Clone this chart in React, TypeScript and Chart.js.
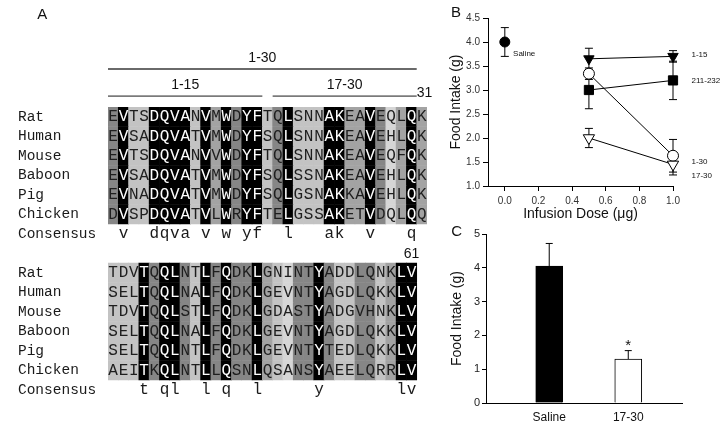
import React, { useEffect, useRef } from "react";
import { Chart, registerables } from "chart.js";

Chart.register(...registerables);

const SANS = '"Liberation Sans", Arial, Helvetica, sans-serif';
const MONO = '"Liberation Mono", "Courier New", monospace';

// ---------------- Panel A data ----------------
const species = ["Rat", "Human", "Mouse", "Baboon", "Pig", "Chicken"];
const consensusLabel = "Consensus";
const block1Sequences = [
  "EVTSDQVANVMWDYFTQLSNNAKEAVEQLQK",
  "EVSADQVATVMWDYFSQLSNNAKEAVEHLQK",
  "EVTSDQVANVVWDYFTQLSNNAKEAVEQFQK",
  "EVSADQVATVMWDYFSQLSSNAKEAVEHLQK",
  "EVNADQVATVMWDYFSQLGSNAKKAVEHLQK",
  "DVSPDQVATVLWRYFTELGSSAKETVDQLQQ",
];
const block2Sequences = [
  "TDVTQQLNTLFQDKLGNINTYADDLQNKLV",
  "SELTQQLNALFQDKLGEVNTYAGDLQKKLV",
  "TDVTQQLSTLFQDKLGDASTYADGVHNKLV",
  "SELTQQLNALFQDKLGEVNTYAGDLQKKLV",
  "SELTQQLNTLFQDKLGEVNTYTEDLQKKLV",
  "AEITKQLNTLLQSNLQSANSYAEELQRRLV",
];
const block1Consensus = " v  dqva v w yf  l   ak  v   q ";
const block2Consensus = "   t ql  l q  l     y       lv";
// conservation shading per column: K black, D dark, M mid, L light, W very light
const block1Shading = "DKLLKKKKLKMKDKKLDKLLLKKMMKDWMKM";
const block2Shading = "LLLKDKKDLKDKDDKMLWDDKDLLDDLMKK";
const segmentLabels = ["1-30", "1-15", "17-30"];
const segmentStart = [1, 1, 17];
const segmentEnd = [30, 15, 30];
const block1EndNumber = "31";
const block2EndNumber = "61";

// ---------------- Panel B data ----------------
const doseTicks = [0, 0.2, 0.4, 0.6, 0.8, 1.0];
const intakeTicksB = [1.0, 1.5, 2.0, 2.5, 3.0, 3.5, 4.0, 4.5];
const doses = [0.5, 1.0];
const salineDose = [0];
const salineIntake = [4.0];
const salineSem = [0.3];
const intake1to15 = [3.65, 3.7];
const sem1to15 = [0.22, 0.12];
const intake211to232 = [3.0, 3.2];
const sem211to232 = [0.39, 0.4];
const intake17to30 = [2.0, 1.45];
const sem17to30 = [0.2, 0.22];
const intake1to30 = [3.34, 1.63];
const sem1to30 = [0.12, 0.34];
const seriesNamesB = ["Saline", "1-15", "211-232", "17-30", "1-30"];

// ---------------- Panel C data ----------------
const groupsC = ["Saline", "17-30"];
const intakeC = [4.05, 1.3];
const semC = [0.67, 0.25];
const significanceC = ["", "*"];
const intakeTicksC = [0, 1, 2, 3, 4, 5];

// ---------------- styles ----------------
const shadeColors: Record<string, string> = {
  K: "#000000",
  D: "#868686",
  M: "#a3a3a3",
  L: "#c3c3c3",
  W: "#d6d6d6",
};
const ROW_OFFSET_BLOCK2 = 8;

function configA(): any {
  const datasets = species.map((name, i) => {
    const data: any[] = [];
    const colors: string[] = [];
    [block1Sequences, block2Sequences].forEach((seqs, b) => {
      const shade = b === 0 ? block1Shading : block2Shading;
      const row = b * ROW_OFFSET_BLOCK2 + i + 1;
      for (let j = 0; j < seqs[i].length; j++) {
        data.push({ x: j + 1, y: [row - 0.5, row + 0.5] });
        colors.push(shadeColors[shade[j]]);
      }
    });
    return {
      label: name,
      data,
      backgroundColor: colors,
      borderWidth: 0,
      barPercentage: 1,
      categoryPercentage: 1,
      grouped: false,
    };
  });

  const plugin = {
    id: "alignmentText",
    afterDatasetsDraw(chart: any) {
      const { ctx } = chart;
      const xs = chart.scales.x;
      const ys = chart.scales.y;
      const px = (v: number) => xs.getPixelForValue(v);
      const py = (v: number) => ys.getPixelForValue(v);
      ctx.save();
      ctx.textBaseline = "middle";

      // panel letter
      ctx.fillStyle = "#111";
      ctx.font = `15px ${SANS}`;
      ctx.textAlign = "center";
      ctx.fillText("A", px(-5.9), py(-4.2));

      // segment lines + labels
      const lineRow = [-1.45, -0.06, -0.06];
      const textRow = [-2.0, -0.62, -0.62];
      segmentLabels.forEach((lab, k) => {
        const x0 = px(segmentStart[k] - 0.5);
        const x1 = px(segmentEnd[k] + 0.5);
        ctx.beginPath();
        ctx.strokeStyle = k === 0 ? "#6a6a6a" : "#1a1a1a";
        ctx.lineWidth = k === 0 ? 2 : 1;
        ctx.moveTo(x0, py(lineRow[k]));
        ctx.lineTo(x1, py(lineRow[k]));
        ctx.stroke();
        ctx.fillStyle = "#111";
        ctx.font = `14px ${SANS}`;
        ctx.textAlign = "center";
        ctx.fillText(lab, (x0 + x1) / 2, py(textRow[k]));
      });
      ctx.font = `14px ${SANS}`;
      ctx.fillText(block1EndNumber, px(31.25), py(-0.22));
      ctx.fillText(block2EndNumber, px(30), py(8.06));

      // row labels and letters
      [block1Sequences, block2Sequences].forEach((seqs, b) => {
        const shade = b === 0 ? block1Shading : block2Shading;
        const cons = b === 0 ? block1Consensus : block2Consensus;
        const base = b * ROW_OFFSET_BLOCK2;
        ctx.textAlign = "left";
        ctx.fillStyle = "#1a1a1a";
        ctx.font = `14.5px ${MONO}`;
        species.forEach((name, i) => {
          ctx.fillText(name, px(-8.25), py(base + i + 1));
        });
        ctx.fillText(consensusLabel, px(-8.25), py(base + species.length + 1));

        ctx.textAlign = "center";
        ctx.font = `16px ${MONO}`;
        species.forEach((_, i) => {
          const seq = seqs[i];
          for (let j = 0; j < seq.length; j++) {
            ctx.fillStyle = shade[j] === "K" ? "#ffffff" : "#1e1e1e";
            ctx.fillText(seq[j], px(j + 1), py(base + i + 1) + 0.5);
          }
        });
        ctx.fillStyle = "#1a1a1a";
        for (let j = 0; j < cons.length; j++) {
          if (cons[j] !== " ") ctx.fillText(cons[j], px(j + 1), py(base + species.length + 1));
        }
      });
      ctx.restore();
    },
  };

  return {
    type: "bar",
    data: { datasets },
    options: {
      responsive: false,
      animation: false,
      events: [],
      layout: { padding: { left: 108, right: 13, top: 107, bottom: 26.5 } },
      plugins: { legend: { display: false }, tooltip: { enabled: false } },
      scales: {
        x: { type: "linear", min: 0.5, max: 31.5, display: false, offset: false },
        y: { type: "linear", min: 0.5, max: 15.5, reverse: true, display: false },
      },
    },
    plugins: [plugin],
  };
}

function configB(): any {
  const pts = (xs: number[], ys: number[]) => xs.map((x, i) => ({ x, y: ys[i] }));
  const semB = [salineSem, sem1to15, sem211to232, sem17to30, sem1to30];
  const common = { borderColor: "#000", borderWidth: 1, pointBorderColor: "#000", pointBorderWidth: 1, clip: false };
  const datasets = [
    { ...common, label: seriesNamesB[0], data: pts(salineDose, salineIntake), showLine: false, pointStyle: "circle", pointRadius: 5, pointBackgroundColor: "#000" },
    { ...common, label: seriesNamesB[1], data: pts(doses, intake1to15), showLine: true, pointStyle: "triangle", pointRotation: 180, pointRadius: 6, pointBackgroundColor: "#000" },
    { ...common, label: seriesNamesB[2], data: pts(doses, intake211to232), showLine: true, pointStyle: "rect", pointRadius: 6.5, pointBackgroundColor: "#000" },
    { ...common, label: seriesNamesB[3], data: pts(doses, intake17to30), showLine: true, pointStyle: "triangle", pointRotation: 180, pointRadius: 6.5, pointBackgroundColor: "#fff" },
    { ...common, label: seriesNamesB[4], data: pts(doses, intake1to30), showLine: true, pointStyle: "circle", pointRadius: 5.5, pointBackgroundColor: "#fff" },
  ];
  const seriesLabelPos = [
    { x: 0.049, y: 3.75 },
    { x: 1.11, y: 3.73 },
    { x: 1.11, y: 3.19 },
    { x: 1.11, y: 1.21 },
    { x: 1.11, y: 1.51 },
  ];

  const plugin = {
    id: "errB",
    beforeDatasetsDraw(chart: any) {
      const { ctx } = chart;
      const xs = chart.scales.x;
      const ys = chart.scales.y;
      ctx.save();
      ctx.strokeStyle = "#000";
      ctx.lineWidth = 1;
      chart.data.datasets.forEach((ds: any, d: number) => {
        ds.data.forEach((p: any, i: number) => {
          const e = semB[d][i];
          const x = xs.getPixelForValue(p.x);
          const y0 = ys.getPixelForValue(p.y - e);
          const y1 = ys.getPixelForValue(p.y + e);
          ctx.beginPath();
          ctx.moveTo(x, y0); ctx.lineTo(x, y1);
          ctx.moveTo(x - 4, y0); ctx.lineTo(x + 4, y0);
          ctx.moveTo(x - 4, y1); ctx.lineTo(x + 4, y1);
          ctx.stroke();
        });
      });
      ctx.restore();
    },
    afterDatasetsDraw(chart: any) {
      const { ctx } = chart;
      const xs = chart.scales.x;
      const ys = chart.scales.y;
      ctx.save();
      ctx.fillStyle = "#111";
      ctx.textBaseline = "middle";
      ctx.textAlign = "left";
      ctx.font = `8px ${SANS}`;
      seriesNamesB.forEach((n, k) => {
        ctx.fillText(n, xs.getPixelForValue(seriesLabelPos[k].x), ys.getPixelForValue(seriesLabelPos[k].y));
      });
      ctx.textAlign = "center";
      ctx.font = `15px ${SANS}`;
      ctx.fillText("B", xs.getPixelForValue(-0.29), ys.getPixelForValue(4.6));
      ctx.restore();
    },
  };

  return {
    type: "scatter",
    data: { datasets },
    options: {
      responsive: false,
      animation: false,
      events: [],
      layout: { padding: { left: 0, right: 53, top: 18, bottom: 0 } },
      plugins: { legend: { display: false }, tooltip: { enabled: false } },
      scales: {
        x: {
          type: "linear",
          min: -0.1,
          max: 1.0,
          afterBuildTicks: (s: any) => { s.ticks = doseTicks.map((v) => ({ value: v })); },
          afterFit: (s: any) => { s.height = 37; },
          ticks: { callback: (v: any) => Number(v).toFixed(1), font: { size: 10, family: SANS }, color: "#333", padding: 4, autoSkip: false, maxRotation: 0 },
          grid: { display: true, drawOnChartArea: false, drawTicks: true, tickLength: 5, color: "#000" },
          border: { display: true, color: "#000", width: 1 },
          title: { display: true, text: "Infusion Dose (μg)", font: { size: 14, family: SANS }, color: "#111", padding: { top: 0, bottom: 0 } },
        },
        y: {
          type: "linear",
          min: 1.0,
          max: 4.5,
          afterBuildTicks: (s: any) => { s.ticks = intakeTicksB.map((v) => ({ value: v })); },
          afterFit: (s: any) => { s.width = 58; },
          ticks: { callback: (v: any) => Number(v).toFixed(1), font: { size: 10, family: SANS }, color: "#333", padding: 3 },
          grid: { display: true, drawOnChartArea: false, drawTicks: true, tickLength: 5, color: "#000" },
          border: { display: true, color: "#000", width: 1 },
          title: { display: true, text: "Food Intake (g)", font: { size: 14, family: SANS }, color: "#111", padding: { top: 18, bottom: 0 } },
        },
      },
    },
    plugins: [plugin],
  };
}

function configC(): any {
  const plugin = {
    id: "errC",
    afterDatasetsDraw(chart: any) {
      const { ctx } = chart;
      const xs = chart.scales.x;
      const ys = chart.scales.y;
      ctx.save();
      ctx.strokeStyle = "#000";
      ctx.lineWidth = 1;
      groupsC.forEach((_, i) => {
        const x = xs.getPixelForValue(i + 1);
        const y0 = ys.getPixelForValue(intakeC[i]);
        const y1 = ys.getPixelForValue(intakeC[i] + semC[i]);
        ctx.beginPath();
        ctx.moveTo(x, y0); ctx.lineTo(x, y1);
        ctx.moveTo(x - 3.5, y1); ctx.lineTo(x + 3.5, y1);
        ctx.stroke();
        if (significanceC[i]) {
          ctx.fillStyle = "#111";
          ctx.font = `15px ${SANS}`;
          ctx.textAlign = "center";
          ctx.textBaseline = "alphabetic";
          ctx.fillText(significanceC[i], x, y1 - 1);
        }
      });
      ctx.fillStyle = "#111";
      ctx.font = `15px ${SANS}`;
      ctx.textAlign = "center";
      ctx.textBaseline = "middle";
      ctx.fillText("C", xs.getPixelForValue(-0.17), ys.getPixelForValue(5.06));
      ctx.restore();
    },
  };

  return {
    type: "bar",
    data: {
      datasets: [
        {
          label: "Food intake",
          data: groupsC.map((_, i) => ({ x: i + 1, y: intakeC[i] })),
          backgroundColor: ["#000000", "#ffffff"],
          borderColor: "#000",
          borderWidth: 1,
          barThickness: 27,
        },
      ],
    },
    options: {
      responsive: false,
      animation: false,
      events: [],
      layout: { padding: { left: 0, right: 44, top: 16, bottom: 0 } },
      plugins: { legend: { display: false }, tooltip: { enabled: false } },
      scales: {
        x: {
          type: "linear",
          min: 0.2,
          max: 2.68,
          offset: false,
          afterBuildTicks: (s: any) => { s.ticks = groupsC.map((_, i) => ({ value: i + 1 })); },
          afterFit: (s: any) => { s.height = 23; },
          ticks: { callback: (v: any) => groupsC[Number(v) - 1], font: { size: 12, family: SANS }, color: "#111", padding: 7, autoSkip: false, maxRotation: 0 },
          grid: { display: false, drawTicks: false },
          border: { display: true, color: "#000", width: 1 },
        },
        y: {
          type: "linear",
          min: 0,
          max: 5,
          afterBuildTicks: (s: any) => { s.ticks = intakeTicksC.map((v) => ({ value: v })); },
          afterFit: (s: any) => { s.width = 56; },
          ticks: { font: { size: 11, family: SANS }, color: "#222", padding: 2 },
          grid: { display: true, drawOnChartArea: false, drawTicks: true, tickLength: 4, color: "#000" },
          border: { display: true, color: "#000", width: 1 },
          title: { display: true, text: "Food Intake (g)", font: { size: 14, family: SANS }, color: "#111", padding: { top: 19, bottom: 0 } },
        },
      },
    },
    plugins: [plugin],
  };
}

export default function App() {
  const aRef = useRef<HTMLCanvasElement>(null);
  const bRef = useRef<HTMLCanvasElement>(null);
  const cRef = useRef<HTMLCanvasElement>(null);

  useEffect(() => {
    document.body.style.margin = "0";
    Chart.defaults.font.family = SANS;
    const charts = [
      new Chart(aRef.current as HTMLCanvasElement, configA()),
      new Chart(bRef.current as HTMLCanvasElement, configB()),
      new Chart(cRef.current as HTMLCanvasElement, configC()),
    ];
    return () => charts.forEach((c) => c.destroy());
  }, []);

  return (
    <div style={{ position: "absolute", left: 0, top: 0, width: 726, height: 426, background: "#fff", overflow: "hidden" }}>
      <canvas ref={aRef} width={440} height={426} style={{ position: "absolute", left: 0, top: 0 }} />
      <canvas ref={bRef} width={296} height={223} style={{ position: "absolute", left: 430, top: 0 }} />
      <canvas ref={cRef} width={296} height={208} style={{ position: "absolute", left: 430, top: 218 }} />
    </div>
  );
}
